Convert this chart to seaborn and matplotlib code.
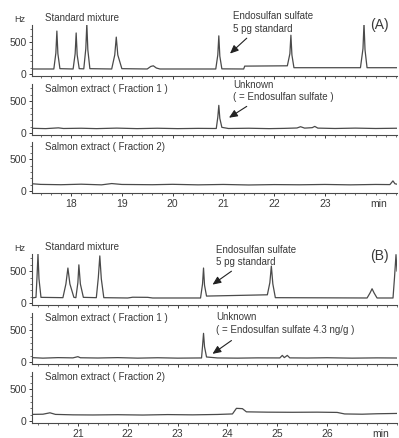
"""
Chromatograms of endosulfan sulfate: standard mixture vs salmon extract
fractions, for two columns (A) and (B).
"""

import matplotlib
matplotlib.use("Agg")
import matplotlib.pyplot as plt
from matplotlib.ticker import MultipleLocator
import numpy as np
import seaborn as sns

# ---- data: (retention time in min, signal in Hz) ----
a_standard = [
    (17.23, 80), (17.66, 80), (17.70, 330), (17.72, 675), (17.74, 320), (17.78, 85),
    (18.04, 80), (18.08, 320), (18.10, 645), (18.12, 300), (18.16, 85),
    (18.25, 82), (18.29, 400), (18.31, 790), (18.33, 380), (18.37, 85),
    (18.80, 80), (18.86, 300), (18.89, 580), (18.92, 300), (19.00, 85),
    (19.50, 80), (19.57, 120), (19.62, 130), (19.68, 95), (19.75, 80),
    (20.85, 80), (20.89, 300), (20.91, 600), (20.93, 280), (20.97, 82),
    (21.40, 80), (21.42, 125), (22.26, 130), (22.31, 320), (22.33, 610),
    (22.35, 300), (22.39, 100), (23.70, 100), (23.75, 400), (23.77, 800),
    (23.79, 380), (23.83, 100), (24.42, 100),
]
a_fraction1 = [
    (17.23, 75), (17.50, 70), (17.75, 82), (17.85, 72), (18.20, 76), (18.50, 70),
    (18.90, 78), (19.30, 70), (19.70, 76), (20.10, 70), (20.50, 74), (20.86, 72),
    (20.89, 250), (20.91, 435), (20.93, 230), (20.97, 90), (21.10, 72), (21.50, 76),
    (21.90, 70), (22.20, 74), (22.45, 80), (22.52, 100), (22.60, 78), (22.75, 85),
    (22.80, 105), (22.86, 78), (23.20, 72), (23.60, 78), (24.00, 72), (24.42, 76),
]
a_fraction2 = [
    (17.23, 115), (17.40, 105), (17.80, 100), (18.20, 108), (18.60, 98), (18.80, 118),
    (19.00, 104), (19.60, 100), (20.00, 106), (20.50, 98), (21.00, 104), (21.50, 96),
    (22.00, 102), (22.50, 99), (23.00, 104), (23.50, 98), (24.00, 104), (24.28, 102),
    (24.34, 160), (24.38, 115), (24.42, 108),
]
b_standard = [
    (20.08, 80), (20.16, 90), (20.18, 400), (20.20, 770), (20.22, 380), (20.26, 90),
    (20.70, 85), (20.76, 300), (20.80, 550), (20.84, 300), (20.92, 90),
    (20.96, 85), (21.00, 320), (21.02, 600), (21.05, 300), (21.11, 90),
    (21.37, 85), (21.41, 400), (21.44, 740), (21.47, 380), (21.52, 85),
    (22.00, 80), (22.10, 92), (22.40, 90), (22.50, 80), (23.46, 80),
    (23.50, 300), (23.52, 550), (23.54, 280), (23.58, 110),
    (24.80, 130), (24.85, 320), (24.88, 580), (24.91, 300), (24.96, 85),
    (26.80, 80), (26.86, 160), (26.90, 225), (26.94, 160), (27.00, 80),
    (27.32, 80), (27.35, 400), (27.38, 760), (27.40, 500),
]
b_fraction1 = [
    (20.08, 70), (20.30, 62), (20.60, 70), (20.90, 66), (21.00, 85), (21.05, 68),
    (21.40, 64), (21.80, 70), (22.20, 62), (22.60, 68), (23.00, 62), (23.48, 65),
    (23.50, 250), (23.52, 451), (23.54, 240), (23.58, 80), (23.80, 65), (24.20, 62),
    (24.60, 66), (25.05, 65), (25.10, 105), (25.14, 70), (25.20, 105), (25.25, 66),
    (25.60, 64), (26.00, 68), (26.50, 62), (27.00, 66), (27.40, 64),
]
b_fraction2 = [
    (20.08, 105), (20.30, 108), (20.44, 130), (20.55, 105), (20.90, 98), (21.30, 96),
    (21.80, 100), (22.30, 95), (22.80, 102), (23.30, 98), (23.80, 104), (24.10, 112),
    (24.18, 200), (24.30, 195), (24.38, 145), (24.80, 140), (25.30, 138), (25.80, 140),
    (26.20, 136), (26.35, 112), (26.70, 108), (27.00, 115), (27.40, 120),
]

a_ticks = [18, 19, 20, 21, 22, 23]
b_ticks = [21, 22, 23, 24, 25, 26]
a_xlim = (17.23, 24.42)
b_xlim = (20.08, 27.40)

a_labels = ["Standard mixture", "Salmon extract ( Fraction 1 )", "Salmon extract ( Fraction 2)"]
b_labels = a_labels

# ---- figure ----
sns.set_style("ticks")
plt.rcParams["font.family"] = ["Liberation Sans", "DejaVu Sans"]
TXT = "#3a3a3a"
LINE = "#4a4a4a"

W, H = 399, 438
fig = plt.figure(figsize=(W / 100, H / 100), dpi=100)

# panel boxes in pixels (top, bottom)
boxes = [(25, 76), (84, 135), (142, 193), (254, 305), (313, 364), (372, 423)]
left_px, right_px = 32, 397

traces = [a_standard, a_fraction1, a_fraction2, b_standard, b_fraction1, b_fraction2]
axes = []
for i, (top, bot) in enumerate(boxes):
    ax = fig.add_axes([left_px / W, 1 - bot / H, (right_px - left_px) / W, (bot - top) / H])
    data = np.array(traces[i])
    sns.lineplot(x=data[:, 0], y=data[:, 1], ax=ax, color=LINE, lw=0.9,
                 estimator=None, sort=False)
    ax.set_ylim(-30, 770)
    xlim = a_xlim if i < 3 else b_xlim
    ticks = a_ticks if i < 3 else b_ticks
    ax.set_xlim(*xlim)
    ax.set_xticks(ticks)
    ax.xaxis.set_minor_locator(MultipleLocator(0.2))
    ax.set_yticks([0, 500])
    ax.yaxis.set_minor_locator(MultipleLocator(100))
    ax.tick_params(which="major", length=2.5, width=0.7, pad=1.5,
                   labelsize=7.5, colors=TXT)
    ax.tick_params(which="minor", length=1.3, width=0.5, colors=TXT)
    sns.despine(ax=ax)
    for s in ("left", "bottom"):
        ax.spines[s].set_linewidth(0.8)
        ax.spines[s].set_color(LINE)
    if i not in (2, 5):
        ax.set_xticklabels([])
    ax.set_xlabel("")
    ax.set_ylabel("")
    axes.append(ax)

fs = 7
# panel titles
for i, ax in enumerate(axes):
    lab = (a_labels + b_labels)[i]
    xl = ax.get_xlim()[0]
    ax.text(xl + 0.26, 690 if i % 3 else 880, lab, fontsize=fs, color=TXT,
            va="center", ha="left", clip_on=False)

# Hz labels
for ax in (axes[0], axes[3]):
    ax.annotate("Hz", xy=(-0.033, 850), xycoords=("axes fraction", "data"),
                fontsize=6.5, color=TXT, ha="center", va="center",
                annotation_clip=False)

# min labels
axes[2].annotate("min", xy=(24.05, 0), xycoords=("data", "axes fraction"),
                 xytext=(0, -4), textcoords="offset points",
                 fontsize=7.5, color=TXT, ha="center", va="top")
axes[5].annotate("min", xy=(27.08, 0), xycoords=("data", "axes fraction"),
                 xytext=(0, -4), textcoords="offset points",
                 fontsize=7.5, color=TXT, ha="center", va="top")

# panel letters
axes[0].text(24.08, 770, "(A)", fontsize=10, color=TXT, ha="center",
             va="center", clip_on=False)
axes[3].text(27.04, 740, "(B)", fontsize=10, color=TXT, ha="center",
             va="center", clip_on=False)

# annotations with arrows
notes = [
    (0, 21.19, 805, "Endosulfan sulfate\n5 pg standard", (21.46, 563), (21.13, 322)),
    (1, 21.19, 660, "Unknown\n( = Endosulfan sulfate )", (21.46, 419), (21.11, 241)),
    (3, 23.78, 740, "Endosulfan sulfate\n5 pg standard", (24.08, 500), (23.70, 290)),
    (4, 23.78, 604, "Unknown\n( = Endosulfan sulfate 4.3 ng/g )", (24.08, 338), (23.70, 129)),
]
for i, tx, ty, s, tail, head in notes:
    ax = axes[i]
    ax.text(tx, ty, s, fontsize=fs, color=TXT, ha="left", va="center",
            linespacing=1.35, clip_on=False)
    ax.annotate("", xy=head, xytext=tail,
                arrowprops=dict(arrowstyle="-|>,head_length=0.5,head_width=0.22",
                                color="#222222", lw=0.8, shrinkA=0, shrinkB=0))

fig.savefig("out.png", dpi=100)
